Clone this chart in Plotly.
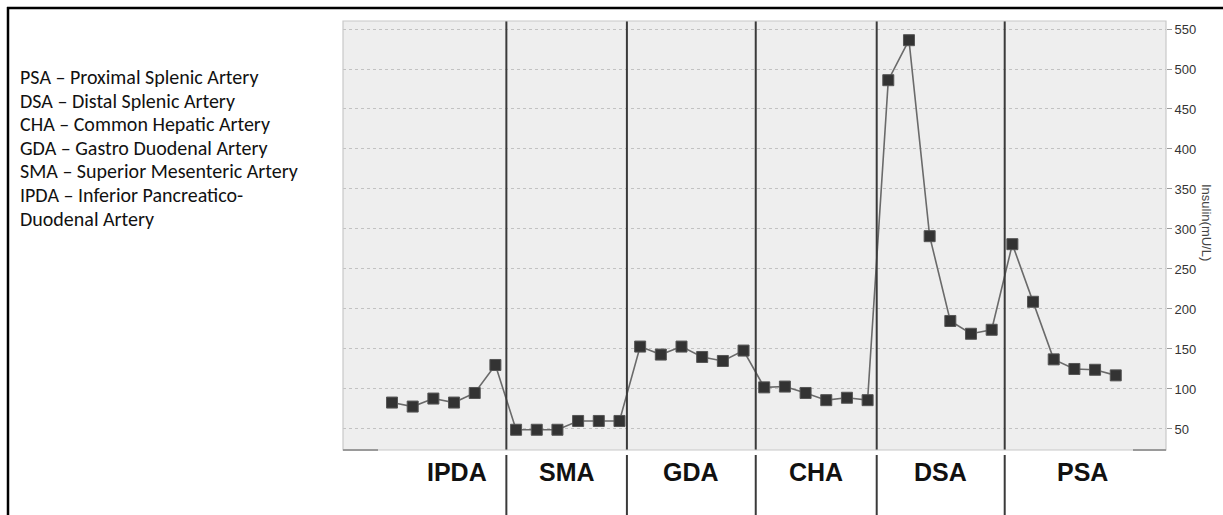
import numpy as np
import plotly.graph_objects as go

# Sampling sites, six consecutive samples each
sites = ["IPDA", "SMA", "GDA", "CHA", "DSA", "PSA"]
ipda = [83, 78, 88, 83, 95, 130]
sma = [49, 49, 49, 60, 60, 60]
gda = [153, 143, 153, 140, 135, 148]
cha = [102, 103, 95, 86, 89, 86]
dsa = [486, 536, 291, 185, 169, 174]
psa = [281, 209, 137, 125, 124, 117]

y_ticks = [50, 100, 150, 200, 250, 300, 350, 400, 450, 500, 550]

key_lines = [
    "PSA – Proximal Splenic Artery",
    "DSA – Distal Splenic Artery",
    "CHA – Common Hepatic Artery",
    "GDA – Gastro Duodenal Artery",
    "SMA – Superior Mesenteric Artery",
    "IPDA – Inferior Pancreatico-",
    "Duodenal Artery",
]

values = ipda + sma + gda + cha + dsa + psa
x = np.arange(len(values))

W, H = 1223, 515
L, R, T, B = 343, 57, 21, 65
pw, ph = W - L - R, H - T - B


def px_x(p):
    return (p - L) / pw


def px_y(p):
    return (H - B - p) / ph


fig = go.Figure()
fig.add_trace(go.Scatter(
    x=x, y=values, mode="lines+markers",
    line=dict(color="#6a6a6a", width=1.6),
    marker=dict(symbol="square", size=11, color="#333333",
                line=dict(color="#555555", width=1)),
    hoverinfo="y", showlegend=False,
))

# Group boundaries (between samples of neighbouring sites)
separators = [5.53, 11.36, 17.59, 23.44, 29.63]
shapes = []
for s in separators:
    shapes.append(dict(type="line", xref="x", yref="paper", x0=s, x1=s, y0=0, y1=1,
                       line=dict(color="#3a3a3a", width=2)))
    shapes.append(dict(type="line", xref="x", yref="paper", x0=s, x1=s,
                       y0=px_y(455), y1=px_y(516), line=dict(color="#3a3a3a", width=2)))

# Plot frame
shapes.append(dict(type="rect", xref="paper", yref="paper", x0=0, x1=1, y0=0, y1=1,
                   line=dict(color="#c8c8c8", width=1.2), layer="above"))
shapes.append(dict(type="line", xref="paper", yref="paper", x0=0, x1=px_x(378), y0=0, y1=0,
                   line=dict(color="#9a9a9a", width=2)))
shapes.append(dict(type="line", xref="paper", yref="paper", x0=px_x(1133), x1=1, y0=0, y1=0,
                   line=dict(color="#9a9a9a", width=2)))

# Outer border: top and left edges
shapes.append(dict(type="line", xref="paper", yref="paper", x0=px_x(7), x1=px_x(1224),
                   y0=px_y(8), y1=px_y(8), line=dict(color="#000000", width=2.5)))
shapes.append(dict(type="line", xref="paper", yref="paper", x0=px_x(8), x1=px_x(8),
                   y0=px_y(7), y1=px_y(516), line=dict(color="#000000", width=2.5)))

annotations = []
# Site labels under each group
bounds = [0.75] + separators + [37.17]
for i, name in enumerate(sites):
    cx = (bounds[i] + bounds[i + 1]) / 2
    annotations.append(dict(
        x=cx, y=px_y(472), xref="x", yref="paper", text=f"<b>{name}</b>",
        showarrow=False, xanchor="center", yanchor="middle",
        font=dict(family="Liberation Sans Narrow, Arial Narrow, Liberation Sans, Arial",
                  size=25, color="#111111"),
    ))

# Abbreviation key
for j, line in enumerate(key_lines):
    annotations.append(dict(
        x=px_x(18), y=px_y(77 + j * 23.6), xref="paper", yref="paper", text=line,
        showarrow=False, xanchor="left", yanchor="middle",
        font=dict(family="Carlito, Lato, Open Sans, sans-serif", size=20, color="#111111"),
    ))

# Axis title on the right, reading downward
annotations.append(dict(
    x=px_x(1207), y=px_y(222), xref="paper", yref="paper", text="Insulin(mU/L)",
    showarrow=False, textangle=90, xanchor="center", yanchor="middle",
    font=dict(family="Liberation Sans, Arial", size=13, color="#444444"),
))

fig.update_layout(
    width=W, height=H,
    margin=dict(l=L, r=R, t=T, b=B, pad=0),
    paper_bgcolor="white", plot_bgcolor="#eeeeee",
    shapes=shapes, annotations=annotations,
    xaxis=dict(range=[-2.37, 37.43], showgrid=False, zeroline=False,
               showticklabels=False, ticks="", showline=False),
    yaxis=dict(side="right", range=[23.7, 560], tickvals=y_ticks,
               showgrid=True, gridcolor="#c2c2c2", griddash="dot", gridwidth=1,
               zeroline=False, showline=False,
               ticks="outside", ticklen=5, tickcolor="#9a9a9a", tickwidth=1,
               tickfont=dict(family="Liberation Sans Narrow, Arial Narrow, Liberation Sans, Arial",
                             size=13, color="#333333")),
)

fig.write_html("out.html")
